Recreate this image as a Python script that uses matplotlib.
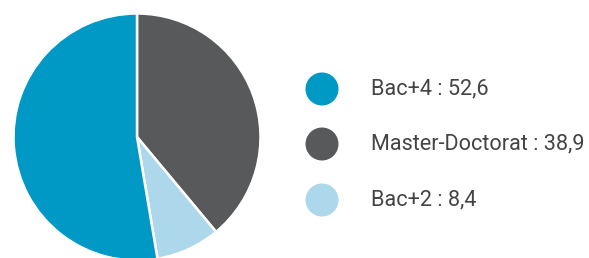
import matplotlib
matplotlib.use("Agg")
import matplotlib.pyplot as plt

categories = ["Bac+4", "Master-Doctorat", "Bac+2"]
values = [52.6, 38.9, 8.4]
colors = ["#0098C4", "#58595B", "#ADD7EA"]

W, H = 589, 258
fig = plt.figure(figsize=(W / 100, H / 100), dpi=100)

# pie axes (pixel placement)
cx, cy, r = 137, 137, 123.5
ax = fig.add_axes([(cx - r) / W, (H - cy - r) / H, 2 * r / W, 2 * r / H])
pie_order = [1, 2, 0]  # clockwise from top: Master, Bac+2, Bac+4
ax.pie([values[i] for i in pie_order], colors=[colors[i] for i in pie_order],
       startangle=90, counterclock=False, radius=1,
       wedgeprops=dict(edgecolor="white", linewidth=1.8))
ax.set_xlim(-1, 1)
ax.set_ylim(-1, 1)
ax.set_aspect("equal")
ax.axis("off")

# legend
lax = fig.add_axes([0, 0, 1, 1])
lax.set_xlim(0, W)
lax.set_ylim(H, 0)
lax.axis("off")
ys = [89, 144, 200]
for cat, val, col, y in zip(categories, values, colors, ys):
    lax.scatter([322], [y], s=(33 * 0.72) ** 2, color=col, edgecolors="none")
    lax.text(371, y, f"{cat} : {str(val).replace('.', ',')}", fontsize=15.6,
             family="Roboto", color="#444444",
             va="center", ha="left")

fig.savefig("out.png", dpi=100)
